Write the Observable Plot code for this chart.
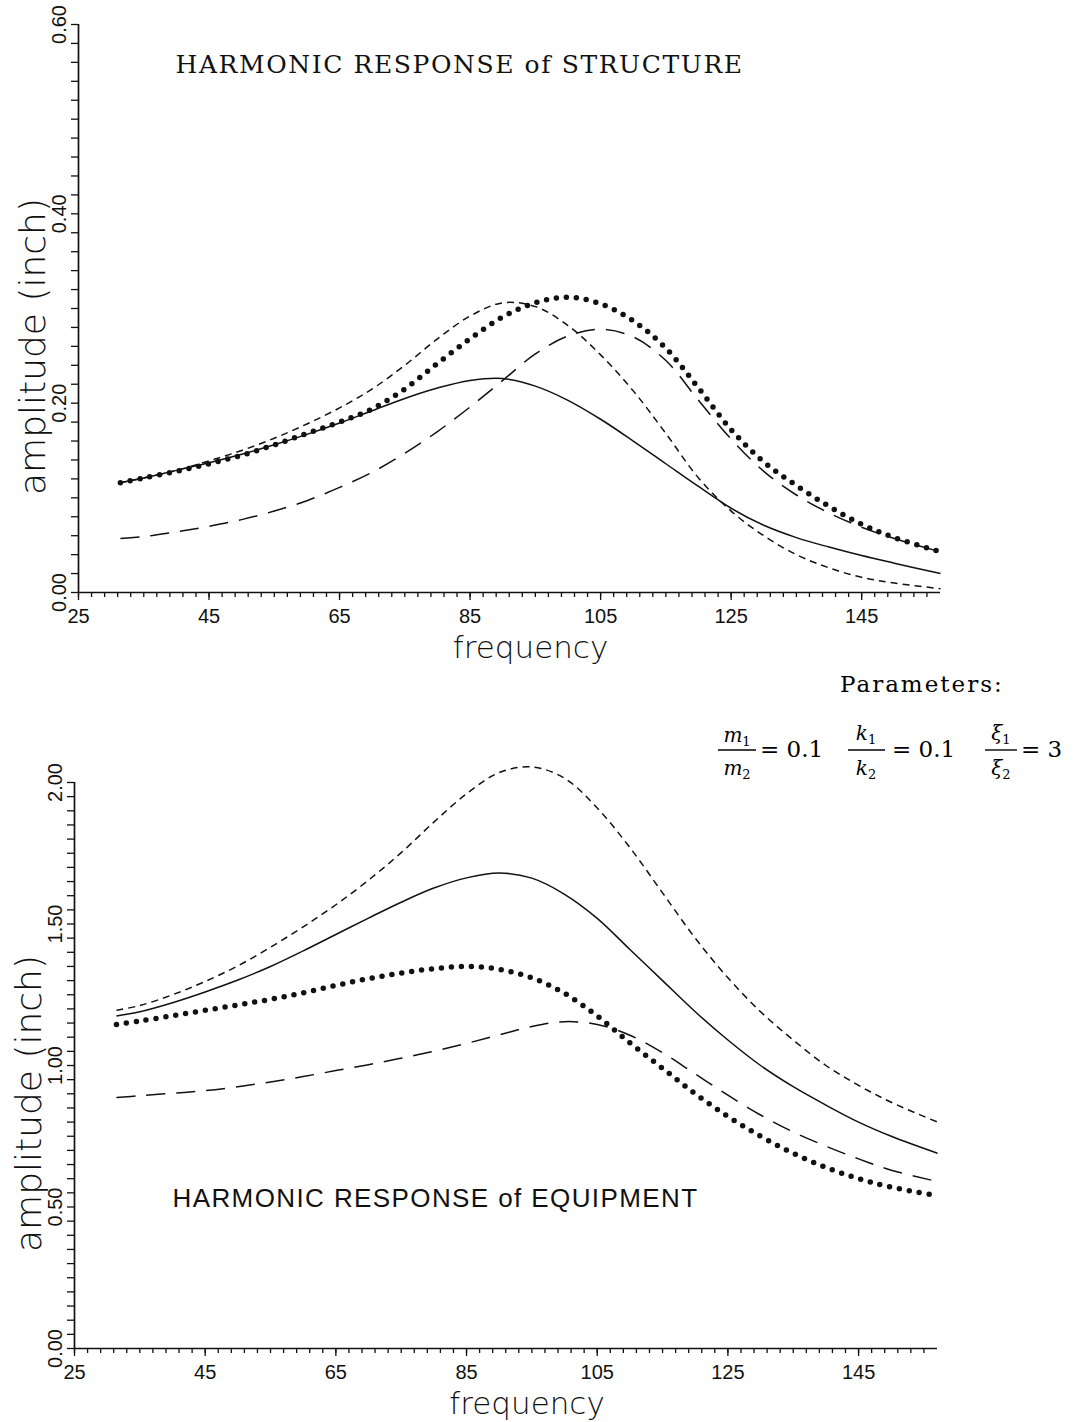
<!DOCTYPE html>
<html>
<head>
<meta charset="utf-8">
<script src="https://cdn.jsdelivr.net/npm/d3@7"></script>
<script src="https://cdn.jsdelivr.net/npm/@observablehq/plot@0.6"></script>
<style>
  body { margin: 0; background: #fff; }
  #page { position: relative; width: 1080px; height: 1422px; overflow: hidden; background: #fff; }
  #top, #bottom, #params { position: absolute; left: 0; }
  #top { top: 0; }
  #bottom { top: 720px; }
  #params { top: 0; }
</style>
</head>
<body>
<div id="page">
  <div id="top"></div>
  <div id="bottom"></div>
  <svg id="params" width="1080" height="800" font-family="DejaVu Serif, Liberation Serif, serif" fill="#000">
    <text x="840" y="692" font-size="23" letter-spacing="2">Parameters:</text>
    <!-- m1 / m2 = 0.1 -->
    <text x="737" y="742" font-size="20" text-anchor="middle"><tspan font-style="italic">m</tspan><tspan font-size="13" dy="4">1</tspan></text>
    <line x1="718" x2="756" y1="750" y2="750" stroke="#000" stroke-width="1.4"/>
    <text x="737" y="775" font-size="20" text-anchor="middle"><tspan font-style="italic">m</tspan><tspan font-size="13" dy="4">2</tspan></text>
    <text x="760" y="757" font-size="23">= 0.1</text>
    <!-- k1 / k2 = 0.1 -->
    <text x="866" y="740" font-size="20" text-anchor="middle"><tspan font-style="italic">k</tspan><tspan font-size="13" dy="4">1</tspan></text>
    <line x1="848" x2="885" y1="750" y2="750" stroke="#000" stroke-width="1.4"/>
    <text x="866" y="775" font-size="20" text-anchor="middle"><tspan font-style="italic">k</tspan><tspan font-size="13" dy="4">2</tspan></text>
    <text x="892" y="757" font-size="23">= 0.1</text>
    <!-- xi1 / xi2 = 3 -->
    <text x="1001" y="740" font-size="20" text-anchor="middle"><tspan font-style="italic">ξ</tspan><tspan font-size="13" dy="4">1</tspan></text>
    <line x1="985" x2="1017" y1="750" y2="750" stroke="#000" stroke-width="1.4"/>
    <text x="1001" y="775" font-size="20" text-anchor="middle"><tspan font-style="italic">ξ</tspan><tspan font-size="13" dy="4">2</tspan></text>
    <text x="1021" y="757" font-size="23">= 3</text>
  </svg>
</div>
<script>
// Excitation frequency samples (rad/s), from 10π to 50π
const freq = [31.42, 35, 40, 45, 50, 55, 60, 65, 70, 75, 80, 85, 90, 95, 100, 105, 110, 115, 120, 125, 130, 135, 140, 145, 150, 157.08];

// Structure amplitude (inch), four cases
const structSolid  = [0.116, 0.121, 0.129, 0.137, 0.146, 0.156, 0.167, 0.179, 0.192, 0.205, 0.216, 0.224, 0.226, 0.218, 0.203, 0.183, 0.160, 0.136, 0.112, 0.089, 0.071, 0.058, 0.048, 0.039, 0.031, 0.020];
const structShort  = [0.116, 0.121, 0.129, 0.139, 0.150, 0.163, 0.178, 0.195, 0.215, 0.240, 0.268, 0.292, 0.306, 0.302, 0.282, 0.251, 0.213, 0.168, 0.121, 0.086, 0.060, 0.040, 0.026, 0.016, 0.010, 0.004];
const structDotted = [0.116, 0.121, 0.128, 0.136, 0.145, 0.156, 0.168, 0.180, 0.194, 0.215, 0.242, 0.268, 0.291, 0.306, 0.312, 0.305, 0.287, 0.258, 0.216, 0.172, 0.138, 0.113, 0.091, 0.072, 0.058, 0.043];
const structLong   = [0.057, 0.059, 0.064, 0.070, 0.077, 0.086, 0.097, 0.111, 0.127, 0.147, 0.170, 0.196, 0.224, 0.252, 0.271, 0.278, 0.270, 0.245, 0.203, 0.162, 0.128, 0.103, 0.084, 0.069, 0.057, 0.043];

// Equipment amplitude (inch), same four cases
const equipSolid  = [1.175, 1.190, 1.222, 1.260, 1.302, 1.350, 1.405, 1.463, 1.521, 1.577, 1.627, 1.663, 1.680, 1.662, 1.605, 1.520, 1.410, 1.300, 1.190, 1.090, 1.000, 0.925, 0.860, 0.800, 0.750, 0.690];
const equipShort  = [1.195, 1.212, 1.250, 1.297, 1.352, 1.418, 1.490, 1.568, 1.655, 1.752, 1.860, 1.960, 2.035, 2.055, 2.015, 1.910, 1.770, 1.610, 1.450, 1.310, 1.190, 1.090, 1.000, 0.930, 0.870, 0.800];
const equipDotted = [1.145, 1.157, 1.176, 1.195, 1.214, 1.234, 1.257, 1.283, 1.307, 1.327, 1.342, 1.350, 1.340, 1.310, 1.255, 1.175, 1.080, 0.990, 0.900, 0.820, 0.750, 0.690, 0.640, 0.600, 0.570, 0.540];
const equipLong   = [0.887, 0.893, 0.902, 0.911, 0.925, 0.942, 0.961, 0.982, 1.003, 1.026, 1.050, 1.078, 1.108, 1.138, 1.155, 1.145, 1.107, 1.045, 0.970, 0.895, 0.825, 0.765, 0.715, 0.670, 0.630, 0.590];

// Axis ticks
const xMin = 25, xMax = 157.08;
const xMajor = [25, 45, 65, 85, 105, 125, 145];
const xMinor = d3.range(25, 156, 2);
const yMajorStruct = [0, 0.2, 0.4, 0.6];
const yMinorStruct = d3.range(0, 0.601, 0.02);
const yMajorEquip = [0, 0.5, 1.0, 1.5, 2.0];
const yMinorEquip = d3.range(0, 2.001, 0.05);

const lineStyles = [
  {key: "solid",  dash: null,    width: 1.5, cap: "butt"},
  {key: "short",  dash: "7,5",   width: 1.5, cap: "butt"},
  {key: "long",   dash: "19,11", width: 1.5, cap: "butt"},
  {key: "dotted", dash: "0,10",  width: 5.5, cap: "round"}
];

function seriesRows(series) {
  return freq.map((f, i) => ({f, v: series[i]}));
}

function chart({series, yMax, yMajor, yMinor, title, titleFont, titleSize, titleDx, titleDy, titleSpacing,
                height, marginTop, marginBottom, marginLeft, marginRight}) {
  const ink = "#111";
  const marks = [];
  lineStyles.forEach(s => {
    marks.push(Plot.line(seriesRows(series[s.key]), {
      x: "f", y: "v", curve: "catmull-rom", stroke: ink,
      strokeWidth: s.width, strokeDasharray: s.dash, strokeLinecap: s.cap
    }));
  });
  marks.push(
    Plot.ruleX([xMin], {y1: 0, y2: yMax, stroke: ink, strokeWidth: 1.7}),
    Plot.ruleY([0], {x1: xMin, x2: xMax, stroke: ink, strokeWidth: 1.7}),
    Plot.axisX(xMinor, {tickSize: 5, tickFormat: () => "", label: null, stroke: ink, strokeWidth: 1.3}),
    Plot.axisX(xMajor, {tickSize: 8, tickPadding: 8, tickFormat: d => String(d), label: null,
      fontSize: 20, fontFamily: "Liberation Sans, Arial, sans-serif", stroke: ink, strokeWidth: 1.3, fill: ink}),
    Plot.axisY(yMinor, {tickSize: 7, tickFormat: () => "", label: null, stroke: ink, strokeWidth: 1.3}),
    Plot.text(yMajor, {x: xMin, y: d => d, text: d => d.toFixed(2), rotate: -90, dx: -19,
      textAnchor: "middle", lineAnchor: "middle",
      fontSize: 20, fontFamily: "Liberation Sans, Arial, sans-serif", fill: ink}),
    Plot.text(["amplitude (inch)"], {frameAnchor: "left", rotate: -90, dx: -45, dy: 38,
      textAnchor: "middle", lineAnchor: "middle",
      fontSize: 36, fontFamily: "DejaVu Sans, sans-serif", fontWeight: 200, fill: ink}),
    Plot.text(["frequency"], {frameAnchor: "bottom", dx: 21, dy: 56,
      textAnchor: "middle", lineAnchor: "middle",
      fontSize: 31, fontFamily: "DejaVu Sans, sans-serif", fontWeight: 200, fill: ink}),
    Plot.text([title], {frameAnchor: "top-left", textAnchor: "start", lineAnchor: "middle",
      dx: titleDx, dy: titleDy,
      fontSize: titleSize, fontFamily: titleFont, fill: ink})
  );
  const svg = Plot.plot({
    width: 1080, height, marginTop, marginBottom, marginLeft, marginRight,
    x: {domain: [xMin, xMax]},
    y: {domain: [0, yMax]},
    style: {background: "transparent", color: ink, overflow: "visible"},
    marks
  });
  d3.select(svg).selectAll("text").filter(function () { return this.textContent === title; })
    .style("letter-spacing", titleSpacing + "px");
  return svg;
}

document.getElementById("top").append(chart({
  series: {solid: structSolid, short: structShort, dotted: structDotted, long: structLong},
  yMax: 0.6, yMajor: yMajorStruct, yMinor: yMinorStruct,
  title: "HARMONIC RESPONSE of STRUCTURE",
  titleFont: "DejaVu Serif, Liberation Serif, serif", titleSize: 25, titleDx: 97, titleDy: 40, titleSpacing: 1.6,
  height: 670, marginTop: 24, marginBottom: 78, marginLeft: 78, marginRight: 140
}));

document.getElementById("bottom").append(chart({
  series: {solid: equipSolid, short: equipShort, dotted: equipDotted, long: equipLong},
  yMax: 2.0, yMajor: yMajorEquip, yMinor: yMinorEquip,
  title: "HARMONIC RESPONSE of EQUIPMENT",
  titleFont: "Liberation Sans, Arial, sans-serif", titleSize: 26, titleDx: 98, titleDy: 416, titleSpacing: 1.4,
  height: 702, marginTop: 62, marginBottom: 74, marginLeft: 74, marginRight: 143
}));
</script>
</body>
</html>
